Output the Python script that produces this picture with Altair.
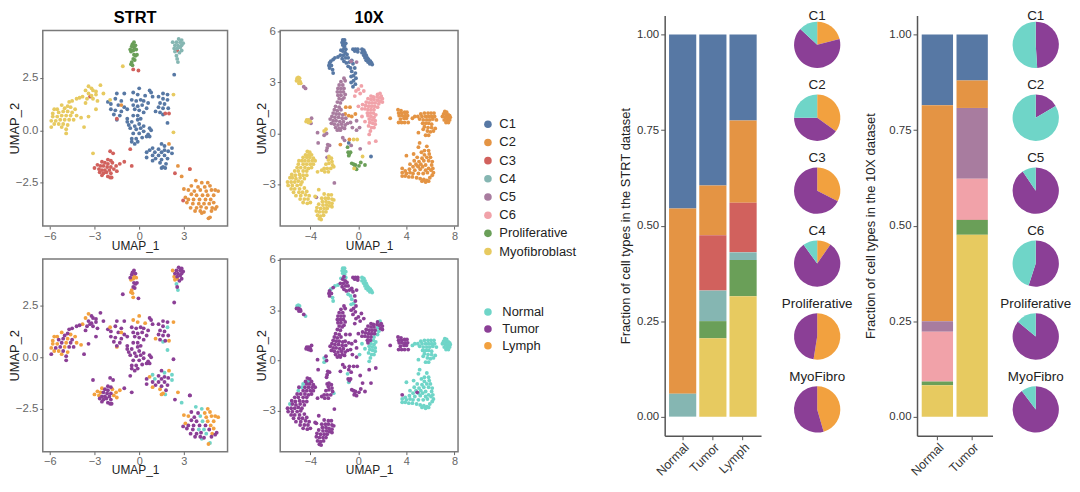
import altair as alt
import pandas as pd

FONT = "Liberation Sans"
CLUSTERS = ["C1", "C2", "C3", "C4", "C5", "C6", "Proliferative", "Myofibroblast"]
CLUSTER_COLORS = ["#5778A4", "#E49444", "#D1615D", "#85B6B2", "#A87C9F", "#F1A2A9", "#6A9F58", "#E7CA60"]
TISSUES = ["Normal", "Tumor", "Lymph"]
TISSUE_COLORS = ["#6FD5C8", "#8B3F96", "#F2A13F"]

# ---------- STRT scatter (UMAP_1, UMAP_2), grouped by cluster and tissue
S_C1_T = [(-2.1,1.35),(-1.5,1.75),(-1.0,1.75),(-1.6,1.5),(-1.2,1.4),(-1.9,1.25),(-1.4,1.2),(-1.0,1.1),(-1.9,1.0),(-1.6,0.95),(-1.2,0.9),(-0.8,1.0),(-1.7,0.75),(-1.3,0.7),(-0.4,1.2),(-0.1,1.15),(0.2,1.2),(0.5,1.05),(-0.3,1.0),(0.0,0.95),(0.3,0.85),(-0.5,1.45),(-0.2,1.4),(0.1,1.45),(0.3,1.4),(0.6,1.3),(0.7,1.9),(0.8,1.8),(0.9,1.6),(1.6,1.75),(1.9,1.7),(1.3,1.6),(1.6,1.5),(1.4,1.3),(1.7,1.25),(1.3,1.1),(1.6,1.05),(1.95,1.05),(1.4,0.85),(-0.8,0.55),(-0.4,0.7),(-0.1,0.7),(-0.8,0.4),(-0.5,0.4),(-0.1,0.5),(0.1,0.55),(-0.7,0.25),(-0.3,0.2),(0.0,0.3),(-0.6,0.1),(-0.2,0.05),(0.1,0.1),(0.3,0.2),(0.7,0.1),(0.8,0.0),(-0.4,-0.15),(0.0,-0.15),(0.3,-0.05),(0.6,-0.2),(-0.5,-0.4),(-0.2,-0.4),(0.2,-0.35),(0.5,-0.3),(0.7,-0.3),(-0.5,-0.55),(-0.3,-0.65),(-0.1,-0.55),(1.5,-0.65),(1.3,-0.9),(1.7,-0.95),(1.5,-1.05),(1.95,-1.0),(0.5,-1.05),(0.9,-1.2),(1.3,-1.2),(1.7,-1.2),(0.5,-1.3),(1.1,-1.35),(1.5,-1.4),(1.9,-1.35),(1.8,-1.6),(2.35,2.65)]
S_C1_L = [(-1.5,0.5),(0.0,2.0),(-0.4,1.8),(-0.1,1.7),(0.4,1.65),(1.1,0.9),(0.7,-0.95),(0.9,-1.45),(1.4,-1.55),(1.5,-1.8),(1.6,-1.75)]
S_C1_N = [(1.9,1.45),(1.6,0.75),(1.9,0.35),(1.7,-0.75),(0.9,-0.85),(1.05,-1.05),(2.2,-0.85),(2.2,-1.1),(1.75,-1.8)]
S_C2_T = [(3.4,-1.85),(3.5,-2.65),(3.7,-2.9),(3.5,-3.05),(3.85,-3.1),(3.3,-3.3),(3.65,-3.3),(3.2,-3.45),(3.6,-3.5),(3.45,-3.7),(3.85,-3.7),(3.75,-3.85),(4.1,-3.85),(4.35,-3.9),(4.85,-3.85),(5.1,-3.75),(4.05,-3.3),(4.45,-3.3),(4.15,-3.65),(3.95,-2.7),(5.2,-3.65),(4.7,-3.5)]
S_C2_L = [(2.6,-1.7),(4.6,-2.5),(4.75,-2.65),(3.0,-2.8),(3.3,-2.85),(4.4,-2.7),(4.5,-2.9),(4.85,-2.85),(5.1,-2.85),(5.3,-2.9),(4.6,-3.1),(5.0,-3.1),(3.1,-3.2),(4.8,-3.3),(5.0,-3.45),(4.9,-3.7),(4.65,-4.2),(2.0,-0.65),(-1.2,1.2)]
S_C2_N = [(2.85,-2.2),(3.8,-2.4),(4.2,-2.5),(4.1,-2.85),(4.25,-3.1),(4.0,-3.5),(4.35,-3.5),(4.5,-3.7),(4.2,-3.95),(4.75,-4.15)]
S_C3_T = [(-1.95,-1.0),(-1.75,-1.1),(-2.1,-1.4),(-1.9,-1.45),(-2.3,-1.55),(-2.1,-1.6),(-2.4,-1.7),(-2.15,-1.75),(-1.9,-1.75),(-2.5,-1.9),(-2.3,-1.9),(-2.0,-1.9),(-2.65,-2.0),(-2.4,-2.05),(-2.2,-2.0),(-1.9,-2.05),(-2.5,-2.15),(-2.1,-2.2),(-1.95,-2.25),(-1.85,-2.25),(-1.0,-1.5),(-0.5,-1.7),(-0.6,-0.9),(2.4,-2.05),(-0.05,2.85),(-1.5,0.55),(3.4,-1.85),(1.75,0.8),(2.95,-3.35),(-3.3,1.6)]
S_C3_L = [(-2.5,-1.5),(-2.8,-1.65),(-2.6,-1.7),(-1.8,-1.55),(-3.0,-1.8),(-2.7,-1.85),(-1.7,-1.85),(-1.5,-1.95),(-1.55,-1.7),(-1.3,-1.6),(-0.4,2.9),(2.0,0.8),(2.55,3.8)]
S_C4_T = [(2.65,4.35),(2.85,4.3),(2.5,4.2),(2.75,4.2),(2.95,4.15),(2.4,4.05),(2.6,4.05),(2.85,4.05),(2.55,3.9),(2.75,3.95),(2.85,3.8),(2.7,3.7),(2.55,3.4)]
S_C4_L = [(2.25,4.2),(2.35,3.9),(2.4,3.75)]
S_C4_N = [(2.5,3.55),(2.6,3.25)]
S_P_T = [(-0.35,4.2),(-0.45,4.1),(-0.25,4.05),(-0.5,4.0),(-0.6,3.85),(-0.35,3.6),(-0.25,3.55),(-0.15,3.6),(-0.4,3.4),(-0.3,3.35)]
S_P_L = [(-0.35,3.95),(-0.4,3.8),(-0.2,3.85),(-0.55,3.75),(-0.5,3.25),(-0.55,3.15),(-0.45,3.1)]
S_M_T = [(-2.6,2.15),(-3.2,2.0),(-3.1,1.9),(-2.9,1.85),(-2.4,1.75),(-3.4,1.75),(-3.2,1.65),(-2.9,1.7),(-3.5,1.5),(-3.1,1.5),(-2.8,1.4),(-4.0,1.55),(-4.2,1.5),(-3.6,1.3),(-2.9,1.0),(-4.5,1.4),(-4.7,1.35),(-4.8,1.15),(-5.0,1.05),(-5.1,0.9),(-4.5,0.85),(-5.2,0.7),(-4.6,0.7),(-3.4,0.65),(-5.4,0.85),(-5.3,0.5),(-5.6,0.45),(-4.7,0.5),(-5.9,0.15),(-5.1,0.3),(-4.9,0.05),(-3.7,0.15),(-4.9,-0.15),(-4.4,0.5),(-1.1,3.05),(-3.1,-1.1),(2.3,-0.1)]
S_M_L = [(-3.4,2.1),(-3.6,1.9),(-3.8,1.6),(-5.7,1.0),(-5.2,1.2),(-5.5,1.0),(-4.6,1.1),(-4.3,1.0),(-5.8,0.8),(-4.8,0.9),(-5.8,0.65),(-5.5,0.65),(-4.9,0.7),(-4.2,0.7),(-3.9,0.6),(-5.9,0.45),(-5.0,0.5),(-5.7,0.3),(-5.4,0.3),(-4.8,0.25),(-5.2,0.15),(2.3,1.7),(-1.95,1.45)]

# ---------- 10X scatter
X_C1_N = [(-1.3,5.5),(-1.15,5.5),(-1.35,5.35),(-1.2,5.35),(-1.05,5.3),(-1.3,5.2),(-1.15,5.15),(-1.05,4.95),(-1.45,4.9),(-1.7,4.5),(-1.95,4.45),(-2.3,4.25),(-2.15,3.75),(-2.1,3.55),(-0.85,3.95),(-0.65,3.85),(-0.55,3.65),(-0.4,3.4),(-0.6,3.35),(0.3,4.95),(0.45,4.9),(0.55,4.75),(0.3,4.75),(0.65,4.6),(0.45,4.6),(0.75,4.45),(0.55,4.45),(0.85,4.35),(0.65,4.3),(1.0,4.25),(0.8,4.2),(1.1,4.15),(0.95,4.1),(1.15,4.05)]
X_C1_T = [(-1.2,5.0),(-1.3,4.85),(-1.1,4.75),(-0.95,4.65),(-1.25,4.6),(-1.5,4.6),(-1.35,4.4),(-1.05,4.45),(-0.85,4.45),(-2.1,4.35),(-2.4,4.15),(-2.45,4.0),(-2.25,4.0),(-2.4,3.85),(-1.2,4.25),(-1.0,4.15),(-0.75,4.2),(-0.55,4.3),(-0.45,4.1),(-0.3,3.85),(-0.25,3.55),(-0.2,3.25),(-0.4,3.1),(-0.6,3.0),(-0.25,2.9),(-0.45,2.75),(-0.45,4.95),(-0.25,4.95),(-0.05,4.95),(-0.3,4.85),(-0.05,4.8),(-0.8,-0.55),(1.05,-1.35)]
X_C2_T = [(3.3,1.4),(3.55,1.35),(3.35,1.2),(3.6,1.2),(3.85,1.25),(4.05,1.25),(3.4,1.05),(3.65,1.05),(3.9,1.05),(4.1,1.05),(3.5,0.85),(3.8,0.9),(4.0,0.9),(3.35,0.65),(3.6,0.65),(3.85,0.65),(4.15,0.65),(2.65,0.9),(-1.05,1.55),(-0.7,1.55),(-1.1,1.15),(-0.8,1.05),(-0.55,1.0),(-0.25,1.15),(-0.75,-0.35),(-1.5,-0.65),(3.65,-2.05),(4.9,-1.9)]
X_C2_N = [(4.7,1.0),(4.95,1.0),(4.5,0.9),(5.2,1.15),(5.5,1.2),(5.8,1.2),(6.05,1.2),(6.3,1.2),(5.3,1.0),(5.6,1.0),(5.85,1.0),(6.1,1.0),(6.35,1.0),(5.1,0.85),(5.4,0.8),(5.7,0.8),(5.95,0.8),(6.2,0.85),(6.5,0.8),(5.35,0.6),(5.6,0.6),(5.85,0.6),(6.1,0.55),(5.5,0.4),(5.8,0.35),(6.1,0.35),(6.4,0.3),(5.4,0.25),(5.75,0.15),(6.0,0.1),(6.25,0.15),(5.0,0.05),(5.6,-0.1),(5.85,-0.1),(7.2,1.3),(7.35,1.25),(7.1,1.15),(7.3,1.1),(7.5,1.1),(7.6,1.05),(7.0,1.0),(7.25,0.95),(7.45,0.95),(7.65,0.95),(7.15,0.8),(7.4,0.8),(7.6,0.8),(7.3,0.65),(7.5,0.65),(5.1,-0.55),(5.0,-0.8),(5.7,-0.75),(5.5,-1.0),(5.85,-1.0),(4.6,-1.2),(5.25,-1.1),(4.0,-1.3),(5.5,-1.25),(5.9,-1.2),(4.9,-1.4),(5.3,-1.45),(5.7,-1.4),(6.0,-1.4),(4.65,-1.6),(5.05,-1.65),(5.45,-1.6),(5.85,-1.6),(6.15,-1.65),(4.3,-1.8),(4.8,-1.8),(5.2,-1.8),(5.6,-1.85),(6.1,-1.85),(4.55,-1.95),(5.0,-1.95),(5.35,-1.95),(5.85,-2.05),(6.2,-2.05),(4.25,-2.1),(4.7,-2.15),(5.15,-2.1),(5.6,-2.15),(6.05,-2.15),(3.9,-2.2),(4.0,-2.35),(4.3,-2.3),(4.55,-2.35),(5.0,-2.35),(5.4,-2.35),(5.75,-2.3),(6.25,-2.3),(3.65,-2.3),(3.65,-2.5),(3.9,-2.5),(4.2,-2.55),(4.5,-2.55),(4.85,-2.6),(5.15,-2.65),(5.45,-2.7),(5.7,-2.75),(5.95,-2.6),(6.15,-2.45),(5.3,-2.8),(5.6,-2.85),(5.85,-2.8)]
X_C5_T = [(-1.2,3.25),(-1.45,3.05),(-1.1,3.1),(-1.6,2.85),(-1.3,2.85),(-1.7,2.65),(-1.45,2.65),(-1.2,2.65),(-1.75,2.45),(-1.5,2.45),(-1.25,2.45),(-1.1,2.3),(-1.7,2.25),(-1.45,2.25),(-1.2,2.1),(-1.6,2.05),(-1.35,2.0),(-1.75,1.85),(-1.5,1.8),(-1.9,1.6),(-1.6,1.55),(-2.0,1.4),(-1.75,1.35),(-1.45,1.4),(-2.1,1.2),(-1.85,1.15),(-1.6,1.15),(-1.3,1.1),(-2.2,1.0),(-1.95,0.95),(-1.65,0.95),(-1.35,0.9),(-1.05,0.9),(-2.35,0.85),(-2.1,0.75),(-1.85,0.75),(-1.55,0.7),(-1.25,0.7),(-2.25,0.6),(-2.0,0.55),(-1.7,0.5),(-1.4,0.55),(-1.1,0.5),(-0.9,0.6),(-1.9,0.35),(-1.6,0.3),(-1.35,0.35),(-1.15,0.3),(-1.75,0.2),(-1.5,0.2),(-0.65,0.65),(-0.15,0.75),(-0.5,0.35),(-0.15,0.2),(-3.4,0.05),(-2.65,0.0),(-3.35,-0.55),(-2.55,-0.65),(-2.4,-0.7),(-2.6,-0.85),(-2.65,-1.0),(-1.3,-0.25),(-1.15,-0.4),(-0.6,-0.7),(0.15,-0.9),(-3.9,0.9),(-3.95,0.6),(-4.55,2.75),(-2.0,-2.9),(-3.5,-3.75),(-0.15,4.2),(-0.6,4.25),(-2.6,-1.4)]
X_C5_N = [(0.1,0.35),(-2.85,-0.1),(-4.4,2.65)]
X_C6_T = [(0.25,2.8),(0.0,2.6),(-0.2,2.5),(0.45,2.5),(0.15,2.35),(-0.3,2.2),(1.6,2.3),(1.9,2.2),(1.05,2.2),(1.25,2.15),(1.55,2.15),(1.75,2.1),(2.0,2.05),(0.8,2.05),(1.05,2.0),(1.3,2.0),(1.85,1.9),(2.0,1.85),(0.65,1.85),(0.9,1.8),(1.15,1.8),(1.4,1.8),(0.35,1.7),(0.6,1.65),(0.85,1.6),(1.1,1.6),(1.35,1.6),(0.0,1.6),(0.3,1.45),(0.55,1.45),(0.8,1.4),(1.05,1.4),(0.75,1.2),(1.0,1.2),(0.8,1.05),(0.9,-0.55),(1.45,-0.45)]
X_C6_N = [(1.8,2.35),(1.6,1.95),(1.7,1.75),(1.6,1.55),(1.3,1.4),(1.25,1.2),(1.05,1.0),(1.3,0.95),(1.45,1.1),(0.9,0.85),(1.15,0.8),(1.4,0.75),(0.95,0.65),(1.2,0.6),(1.4,0.55),(0.85,0.45),(1.1,0.35),(1.3,0.35),(1.0,0.15),(0.9,-0.05),(0.55,0.7),(0.3,1.0)]
X_P_T = [(-0.85,-1.1),(-0.75,-1.2),(-0.65,-1.1),(-0.55,-1.75),(-0.4,-1.8),(-0.25,-1.85),(0.05,-1.9),(-0.3,-2.0),(-0.15,-2.1),(0.2,-1.7),(0.55,-1.85)]
X_P_N = [(-0.9,-0.8),(-0.8,-1.3)]
X_M_T = [(-5.15,3.1),(-5.0,3.1),(-4.85,3.05),(-4.95,2.95),(-4.8,2.95),(-4.3,0.8),(-4.15,0.8),(-4.35,0.7),(-4.15,0.65),(-4.0,0.7),(-4.25,-1.05),(-4.05,-1.1),(-4.4,-1.25),(-3.9,-1.25),(-4.3,-1.4),(-4.05,-1.4),(-3.75,-1.45),(-4.95,-1.6),(-4.45,-1.6),(-4.15,-1.6),(-3.85,-1.6),(-3.6,-1.6),(-4.6,-1.8),(-4.3,-1.8),(-4.0,-1.8),(-3.75,-1.8),(-5.1,-2.0),(-4.8,-2.0),(-4.45,-2.0),(-4.15,-2.05),(-3.9,-2.0),(-5.3,-2.2),(-5.0,-2.2),(-4.6,-2.2),(-4.3,-2.2),(-5.55,-2.4),(-5.25,-2.45),(-4.9,-2.4),(-4.6,-2.45),(-4.3,-2.45),(-5.5,-2.6),(-5.2,-2.65),(-4.85,-2.6),(-4.5,-2.65),(-5.9,-2.85),(-5.6,-2.85),(-5.3,-2.85),(-5.0,-2.8),(-4.7,-2.85),(-5.85,-3.05),(-5.5,-3.05),(-5.1,-3.05),(-4.8,-3.0),(-5.6,-3.25),(-5.3,-3.25),(-4.9,-3.25),(-4.5,-3.2),(-5.4,-3.45),(-4.95,-3.45),(-4.65,-3.45),(-4.3,-3.4),(-5.2,-3.65),(-4.8,-3.65),(-4.4,-3.6),(-4.1,-3.65),(-4.85,-3.85),(-4.5,-3.85),(-4.2,-3.85),(-4.6,-4.05),(-4.25,-4.1),(-4.0,-4.05),(-2.45,-1.35),(-2.25,-1.45),(-2.5,-1.55),(-2.2,-1.65),(-2.7,-1.8),(-2.45,-1.75),(-2.15,-1.85),(-2.85,-2.05),(-2.6,-2.05),(-2.3,-2.05),(-3.05,-2.15),(-2.8,-2.25),(-2.5,-2.25),(-3.4,-2.25),(-3.3,-3.3),(-2.85,-3.55),(-2.5,-3.6),(-2.25,-3.6),(-3.05,-3.8),(-2.75,-3.8),(-2.5,-3.8),(-2.2,-3.85),(-2.05,-3.9),(-3.0,-4.0),(-2.7,-4.0),(-2.45,-4.05),(-2.2,-4.1),(-3.3,-4.15),(-2.95,-4.2),(-2.65,-4.2),(-2.4,-4.25),(-2.2,-4.3),(-3.45,-4.35),(-3.15,-4.4),(-2.85,-4.4),(-2.6,-4.4),(-3.5,-4.55),(-3.25,-4.6),(-2.95,-4.6),(-2.7,-4.6),(-3.4,-4.8),(-3.15,-4.85),(-2.9,-4.8),(-3.25,-5.0),(-3.1,-5.05),(-3.6,-3.7),(-0.4,-0.35),(-0.1,-0.35),(0.35,-1.35),(-0.35,-2.05),(-2.7,0.25)]
X_M_N = [(-5.1,3.25),(-5.0,3.3),(-4.9,3.25),(-4.15,-1.25),(-4.6,-1.4),(-4.7,-1.6),(-5.0,-1.8),(-5.7,-2.6),(-2.05,-1.95),(-2.85,0.15)]

STRT_GROUPS = [("C1","Normal",S_C1_N),("C1","Lymph",S_C1_L),("C1","Tumor",S_C1_T),("C2","Normal",S_C2_N),("C2","Lymph",S_C2_L),("C2","Tumor",S_C2_T),("C3","Lymph",S_C3_L),("C3","Tumor",S_C3_T),("C4","Normal",S_C4_N),("C4","Lymph",S_C4_L),("C4","Tumor",S_C4_T),("Proliferative","Lymph",S_P_L),("Proliferative","Tumor",S_P_T),("Myofibroblast","Lymph",S_M_L),("Myofibroblast","Tumor",S_M_T)]
TENX_GROUPS = [("C1","Normal",X_C1_N),("C1","Tumor",X_C1_T),("C2","Normal",X_C2_N),("C2","Tumor",X_C2_T),("C5","Normal",X_C5_N),("C5","Tumor",X_C5_T),("C6","Normal",X_C6_N),("C6","Tumor",X_C6_T),("Proliferative","Normal",X_P_N),("Proliferative","Tumor",X_P_T),("Myofibroblast","Normal",X_M_N),("Myofibroblast","Tumor",X_M_T)]

# ---------- stacked bars
BAR_RANK = {c: i for i, c in enumerate(CLUSTERS)}
STRT_BAR_GROUPS = ["Normal", "Tumor", "Lymph"]
STRT_BARS = {
    "Normal": {"C1": 0.455, "C2": 0.485, "C4": 0.06},
    "Tumor": {"C1": 0.395, "C2": 0.13, "C3": 0.145, "C4": 0.08, "Proliferative": 0.045, "Myofibroblast": 0.205},
    "Lymph": {"C1": 0.225, "C2": 0.215, "C3": 0.13, "C4": 0.02, "Proliferative": 0.095, "Myofibroblast": 0.315},
}
TENX_BAR_GROUPS = ["Normal", "Tumor"]
TENX_BARS = {
    "Normal": {"C1": 0.185, "C2": 0.565, "C5": 0.028, "C6": 0.13, "Proliferative": 0.01, "Myofibroblast": 0.082},
    "Tumor": {"C1": 0.12, "C2": 0.072, "C5": 0.185, "C6": 0.108, "Proliferative": 0.039, "Myofibroblast": 0.476},
}

# ---------- pies: (title, [(tissue, share), ...]) clockwise from 12 o'clock
STRT_PIES = [
    ("C1", [("Lymph", 0.21), ("Tumor", 0.66), ("Normal", 0.13)]),
    ("C2", [("Lymph", 0.35), ("Tumor", 0.40), ("Normal", 0.25)]),
    ("C3", [("Lymph", 0.325), ("Tumor", 0.675)]),
    ("C4", [("Lymph", 0.097), ("Tumor", 0.803), ("Normal", 0.10)]),
    ("Proliferative", [("Lymph", 0.525), ("Tumor", 0.475)]),
    ("MyoFibro", [("Lymph", 0.455), ("Tumor", 0.545)]),
]
TENX_PIES = [
    ("C1", [("Tumor", 0.49), ("Normal", 0.51)]),
    ("C2", [("Tumor", 0.165), ("Normal", 0.835)]),
    ("C5", [("Tumor", 0.905), ("Normal", 0.095)]),
    ("C6", [("Tumor", 0.55), ("Normal", 0.45)]),
    ("Proliferative", [("Tumor", 0.86), ("Normal", 0.14)]),
    ("MyoFibro", [("Tumor", 0.897), ("Normal", 0.103)]),
]


def points(groups):
    return pd.DataFrame([{"x": x, "y": y, "cluster": c, "tissue": t} for c, t, pts in groups for x, y in pts])


def scatter(df, field, domain, colors, xdom, xticks, ydom, yticks, yfmt, w, h, x_title_pad, title=None, title_offset=0, legend=None):
    ch = alt.Chart(df).mark_circle(size=15, opacity=1).encode(
        x=alt.X("x:Q", scale=alt.Scale(domain=xdom, nice=False, zero=False),
                axis=alt.Axis(title="UMAP_1", values=xticks, grid=False, format="d", labelColor="#666666",
                              labelFontSize=11, titleFontSize=12, titleFontWeight="normal", titleColor="#222222",
                              tickColor="#666666", domain=False, tickSize=3, labelPadding=1, titlePadding=x_title_pad, labelFont=FONT, titleFont=FONT)),
        y=alt.Y("y:Q", scale=alt.Scale(domain=ydom, nice=False, zero=False),
                axis=alt.Axis(title="UMAP_2", values=yticks, grid=False, format=yfmt, labelColor="#666666",
                              labelFontSize=11.5, titleFontSize=13, titleFontWeight="normal", titleColor="#222222",
                              tickColor="#666666", domain=False, tickSize=3, labelPadding=2, titlePadding=-6.5, labelFont=FONT, titleFont=FONT)),
        color=alt.Color(f"{field}:N", scale=alt.Scale(domain=domain, range=colors), legend=legend),
    )
    props = dict(width=w, height=h, view=alt.ViewBackground(stroke="#7a7a7a", strokeWidth=1.5))
    if title:
        props["title"] = alt.TitleParams(title, font=FONT, fontSize=16.5, fontWeight="bold", anchor="middle",
                                         offset=title_offset, color="#000000")
    return ch.properties(**props)


def make_legend(x, y, pad, label_offset):
    return alt.Legend(title=None, orient="none", legendX=x, legendY=y, symbolType="circle", symbolSize=58, symbolStrokeWidth=0,
                      labelFontSize=13, labelFont=FONT, labelColor="#222222", rowPadding=pad, labelOffset=label_offset, padding=0)


S_XD, S_YD = [-6.47, 5.93], [-4.57, 4.76]
X_XD, X_YD = [-6.51, 8.30], [-5.44, 6.06]
s_df, x_df = points(STRT_GROUPS), points(TENX_GROUPS)

a = scatter(s_df, "cluster", CLUSTERS, CLUSTER_COLORS, S_XD, [-6, -3, 0, 3], S_YD, [-2.5, 0, 2.5], ".1f", 186, 197, 0, "STRT", 3.5)
b = scatter(x_df, "cluster", CLUSTERS, CLUSTER_COLORS, X_XD, [-4, 0, 4, 8], X_YD, [-3, 0, 3, 6], "d", 179, 197, 0, "10X", -1.5,
            make_legend(202.6, 88, 4.3, 5))
c = scatter(s_df, "tissue", TISSUES, TISSUE_COLORS, S_XD, [-6, -3, 0, 3], S_YD, [-2.5, 0, 2.5], ".1f", 186, 194, -2)
d = scatter(x_df, "tissue", TISSUES, TISSUE_COLORS, X_XD, [-4, 0, 4, 8], X_YD, [-3, 0, 3, 6], "d", 179, 194, -2,
            legend=make_legend(202.6, 47, 3, 8))
scatter_block = alt.concat(a, b, c, d, columns=2, spacing=alt.RowColnumber(column=53, row=33), bounds="flush").resolve_scale(color="independent")


def bars(table, groups, ytitle, w, pad, title_pad):
    rows = [{"group": g, "cluster": k, "value": v, "rank": BAR_RANK[k]} for g in groups for k, v in table[g].items()]
    return alt.Chart(pd.DataFrame(rows)).mark_bar(opacity=1).encode(
        x=alt.X("group:N", sort=groups, scale=alt.Scale(paddingInner=0.1, paddingOuter=pad),
                axis=alt.Axis(title=None, labelAngle=315, labelAlign="right", labelBaseline="top", labelFontSize=12.5, labelFont=FONT,
                              labelColor="#333333", domainColor="#555555", domainWidth=1.5, tickColor="#555555", tickSize=4, labelPadding=1)),
        y=alt.Y("value:Q", stack="zero", scale=alt.Scale(domain=[-0.05, 1.05], nice=False, zero=False),
                axis=alt.Axis(title=ytitle, values=[0, 0.25, 0.5, 0.75, 1], format=".2f", grid=False, labelFontSize=11.5, labelFont=FONT,
                              labelColor="#333333", titleFontSize=13, titleFontWeight="normal", titleFont=FONT, titleColor="#222222",
                              domainColor="#555555", domainWidth=1.5, tickColor="#555555", tickSize=4, titlePadding=title_pad)),
        color=alt.Color("cluster:N", scale=alt.Scale(domain=CLUSTERS, range=CLUSTER_COLORS), legend=None),
        order=alt.Order("rank:Q", sort="descending"),
    ).properties(width=w, height=423)


def pie(name, parts, first):
    df = pd.DataFrame([{"tissue": t, "share": s, "seq": i} for i, (t, s) in enumerate(parts)])
    return alt.Chart(df).mark_arc(outerRadius=23.3).encode(
        theta=alt.Theta("share:Q", stack=True),
        order=alt.Order("seq:Q"),
        color=alt.Color("tissue:N", scale=alt.Scale(domain=TISSUES, range=TISSUE_COLORS), legend=None),
    ).properties(width=47, height=47, title=alt.TitleParams(name, font=FONT, fontSize=13.5, fontWeight="normal", color="#222222",
                                                           anchor="middle", offset=-1.5 if first else 3))


def pie_column(pies):
    return alt.vconcat(*[pie(n, p, i == 0) for i, (n, p) in enumerate(pies)], spacing=26.4, bounds="flush").resolve_scale(color="independent")


def spacer(w, h):
    return alt.Chart(pd.DataFrame({"a": [0]})).mark_point(opacity=0, size=1).encode(x=alt.value(0), y=alt.value(0)).properties(width=w, height=h)


def shifted(h, content):
    return alt.vconcat(spacer(1, h), content, spacing=0, bounds="flush").resolve_scale(color="independent")


chart = alt.hconcat(
    shifted(16, scatter_block),
    spacer(39, 10),
    shifted(1, bars(STRT_BARS, STRT_BAR_GROUPS, "Fraction of cell types in the STRT dataset", 97, 0.145, 4)),
    spacer(17.5, 10),
    shifted(7, pie_column(STRT_PIES)),
    spacer(9, 10),
    shifted(1, bars(TENX_BARS, TENX_BAR_GROUPS, "Fraction of cell types in the 10X dataset", 76, 0.135, 11)),
    spacer(4.5, 10),
    shifted(7, pie_column(TENX_PIES)),
    spacing=0,
).resolve_scale(color="independent").properties(padding={"left": 0, "top": 0, "right": 0, "bottom": 0}).configure(font=FONT).configure_view(stroke="transparent")

chart.save("out.html", embed_options={"renderer": "svg", "actions": False})
